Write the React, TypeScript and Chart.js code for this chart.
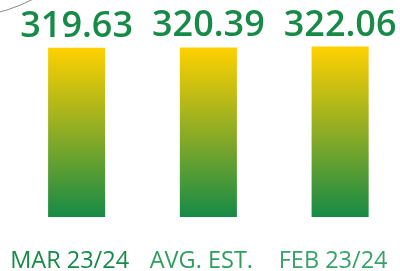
import React, { useEffect, useRef } from "react";
import { Chart, registerables } from "chart.js";

Chart.register(...registerables);

const categories = ["MAR 23/24", "AVG. EST.", "FEB 23/24"];
const values = [319.63, 320.39, 322.06];
const valueLabels = ["319.63", "320.39", "322.06"];
const labelColors = ["#178a48", "#2e9d5e", "#38a268"];

const valueLabelPlugin = {
  id: "valueLabels",
  afterDatasetsDraw(chart: any) {
    const ctx = chart.ctx;
    const meta = chart.getDatasetMeta(0);
    ctx.save();
    ctx.font = "600 36px 'Open Sans'";
    ctx.fillStyle = "#178a48";
    ctx.textAlign = "center";
    ctx.textBaseline = "alphabetic";
    meta.data.forEach((bar: any, i: number) => {
      ctx.fillText(valueLabels[i], bar.x, bar.y - 11);
    });
    ctx.restore();
  },
};

const arcPlugin = {
  id: "cornerArc",
  beforeDraw(chart: any) {
    const ctx = chart.ctx;
    ctx.save();
    ctx.strokeStyle = "#8a8a8a";
    ctx.lineWidth = 1;
    ctx.beginPath();
    ctx.arc(-40, -140, 157.2, 0, Math.PI);
    ctx.stroke();
    ctx.restore();
  },
};

export default function App() {
  const ref = useRef<HTMLCanvasElement>(null);
  useEffect(() => {
    document.body.style.margin = "0";
    document.body.style.overflow = "hidden";
    document.documentElement.style.overflow = "hidden";
    const canvas = ref.current!;
    const chart = new Chart(canvas, {
      type: "bar",
      data: {
        labels: categories,
        datasets: [
          {
            data: values,
            backgroundColor: (c: any) => {
              const ch = c.chart;
              const ys = ch.scales.y;
              if (!ys || c.raw === undefined) return "#8bad22";
              const top = ys.getPixelForValue(c.raw);
              const bottom = ys.getPixelForValue(0);
              if (!isFinite(top) || !isFinite(bottom)) return "#8bad22";
              const g = ch.ctx.createLinearGradient(0, top, 0, bottom);
              g.addColorStop(0, "#ffd100");
              g.addColorStop(0.5, "#8eac25");
              g.addColorStop(1, "#168a46");
              return g;
            },
            borderWidth: 0,
            barPercentage: 0.433,
            categoryPercentage: 1,
          },
        ],
      },
      options: {
        responsive: false,
        animation: false,
        layout: { padding: { left: 10.75, right: 0, top: 0, bottom: 0 } },
        plugins: { legend: { display: false }, tooltip: { enabled: false } },
        scales: {
          x: {
            grid: { display: false, drawTicks: false },
            border: { display: false },
            afterFit: (s: any) => {
              s.height = 54;
              s.paddingLeft = 0;
              s.paddingRight = 0;
            },
            ticks: {
              font: { family: "'Open Sans'", size: 23.5 },
              color: (c: any) => labelColors[c.index],
              padding: 30.6,
              labelOffset: -7,
              maxRotation: 0,
              autoSkip: false,
            },
          },
          y: {
            display: false,
            min: 0,
            max: 410,
          },
        },
      },
      plugins: [arcPlugin, valueLabelPlugin],
    });
    return () => chart.destroy();
  }, []);
  return <canvas ref={ref} width={406} height={271} style={{ display: "block" }} />;
}
